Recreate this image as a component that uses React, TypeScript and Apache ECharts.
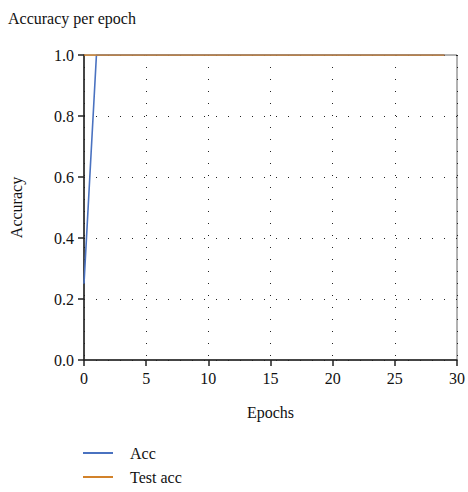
import React, { useEffect, useRef } from "react";
import * as echarts from "echarts";

const epochs = [0, 1, 2, 3, 4, 5, 6, 7, 8, 9, 10, 11, 12, 13, 14, 15, 16, 17, 18, 19, 20, 21, 22, 23, 24, 25, 26, 27, 28, 29];
const acc = [0.25, 1, 1, 1, 1, 1, 1, 1, 1, 1, 1, 1, 1, 1, 1, 1, 1, 1, 1, 1, 1, 1, 1, 1, 1, 1, 1, 1, 1, 1];
const testAcc = [1, 1, 1, 1, 1, 1, 1, 1, 1, 1, 1, 1, 1, 1, 1, 1, 1, 1, 1, 1, 1, 1, 1, 1, 1, 1, 1, 1, 1, 1];
const seriesNames = ["Acc", "Test acc"];
const titleText = "Accuracy per epoch";

const FONT = "'Liberation Serif', 'DejaVu Serif', serif";

export default function App() {
  const ref = useRef<HTMLDivElement>(null);
  useEffect(() => {
    if (!ref.current) return;
    const chart = echarts.init(ref.current, undefined, { renderer: "svg" });
    chart.setOption({
      animation: false,
      backgroundColor: "#fff",
      textStyle: { fontFamily: FONT },
      title: {
        text: titleText,
        left: 3,
        top: 5,
        textStyle: { fontFamily: FONT, fontSize: 16, fontWeight: "normal", color: "#111" },
      },
      grid: {
        left: 83,
        right: 11,
        top: 55,
        bottom: 132,
        show: true,
        borderColor: "#666",
        borderWidth: 1,
      },
      legend: {
        orient: "vertical",
        left: 83,
        top: 445,
        padding: 0,
        itemWidth: 30,
        itemHeight: 2,
        itemGap: 8,
        icon: "rect",
        data: seriesNames,
        textStyle: { fontFamily: FONT, fontSize: 16, color: "#111", padding: [0, 0, 0, 12] },
      },
      xAxis: {
        type: "value",
        min: 0,
        max: 30,
        interval: 5,
        name: "Epochs",
        nameLocation: "middle",
        nameGap: 44,
        nameTextStyle: { fontFamily: FONT, fontSize: 16, color: "#111" },
        axisLine: { onZero: false, lineStyle: { color: "#222", width: 1.5 } },
        axisTick: { show: true, inside: false, length: 6, lineStyle: { color: "#222", width: 1.5 } },
        axisLabel: { fontFamily: FONT, fontSize: 16, color: "#111", margin: 10 },
        splitLine: { show: true, lineStyle: { color: "#222", type: [1, 11], width: 1 } },
      },
      yAxis: {
        type: "value",
        min: 0,
        max: 1,
        interval: 0.2,
        name: "Accuracy",
        nameLocation: "middle",
        nameGap: 60,
        nameTextStyle: { fontFamily: FONT, fontSize: 16, color: "#111" },
        axisLine: { show: true, lineStyle: { color: "#222", width: 1.5 } },
        axisTick: { show: true, inside: false, length: 6, lineStyle: { color: "#222", width: 1.5 } },
        axisLabel: {
          fontFamily: FONT,
          fontSize: 16,
          color: "#111",
          margin: 10,
          formatter: (v: number) => v.toFixed(1),
        },
        splitLine: { show: true, lineStyle: { color: "#222", type: [1, 11], width: 1 } },
      },
      series: [
        {
          name: seriesNames[0],
          type: "line",
          data: epochs.map((e, i) => [e, acc[i]]),
          showSymbol: false,
          symbol: "none",
          lineStyle: { color: "#4a72c0", width: 1.6 },
          itemStyle: { color: "#4a72c0" },
        },
        {
          name: seriesNames[1],
          type: "line",
          data: epochs.map((e, i) => [e, testAcc[i]]),
          showSymbol: false,
          symbol: "none",
          lineStyle: { color: "#d2822a", width: 1.6 },
          itemStyle: { color: "#d2822a" },
        },
      ],
    });
    return () => chart.dispose();
  }, []);
  return <div ref={ref} style={{ width: 468, height: 492, position: "absolute", left: 0, top: 0 }} />;
}
